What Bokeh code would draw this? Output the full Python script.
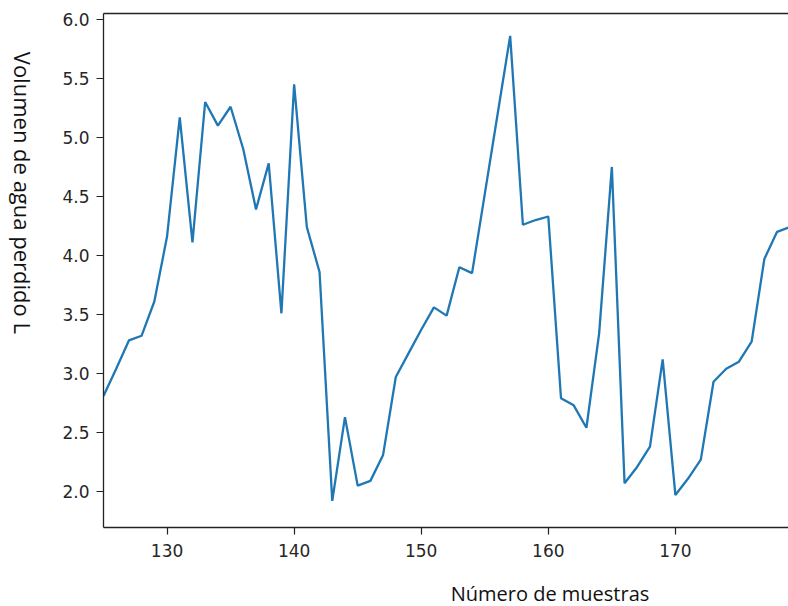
import math
from bokeh.plotting import figure
from bokeh.layouts import row, column
from bokeh.models import Range1d, FixedTicker, LinearAxis, CustomJSTickFormatter
from bokeh.core.properties import value
from bokeh.embed import file_html
from bokeh.resources import INLINE

muestras = list(range(125, 180))
volumen = [
    2.81, 3.04, 3.28, 3.32, 3.61, 4.16, 5.17, 4.11, 5.30, 5.10,
    5.26, 4.90, 4.39, 4.78, 3.51, 5.45, 4.24, 3.86, 1.92, 2.63,
    2.05, 2.09, 2.31, 2.97, 3.17, 3.37, 3.56, 3.49, 3.90, 3.85,
    4.52, 5.19, 5.86, 4.26, 4.30, 4.33, 2.79, 2.73, 2.54, 3.34,
    4.75, 2.07, 2.21, 2.38, 3.12, 1.97, 2.11, 2.27, 2.93, 3.04,
    3.10, 3.27, 3.97, 4.20, 4.24,
]
x_ticks = [130, 140, 150, 160, 170]
y_ticks = [2.0, 2.5, 3.0, 3.5, 4.0, 4.5, 5.0, 5.5, 6.0]
x_title = "Número de muestras"
y_title = "Volumen de agua perdido L"

TOTAL_W, TOTAL_H = 788, 606
YT_W = 40     # strip holding the vertical title
XT_H = 40     # strip holding the horizontal title


def blank(width, height, xr, yr):
    f = figure(width=width, height=height, output_backend="svg",
               toolbar_location=None, x_range=Range1d(*xr), y_range=Range1d(*yr),
               x_axis_type=None, y_axis_type=None,
               min_border=0, min_border_left=0, min_border_right=0,
               min_border_top=0, min_border_bottom=0)
    f.grid.visible = False
    f.outline_line_color = None
    f.background_fill_color = "white"
    f.border_fill_color = "white"
    return f


# main chart
MAIN_H = TOTAL_H - XT_H
p = figure(width=TOTAL_W - YT_W, height=MAIN_H, output_backend="svg",
           toolbar_location=None,
           x_range=Range1d(125, 178.9), y_range=Range1d(1.695, 6.05),
           min_border_left=63, min_border_right=0, min_border_top=13,
           min_border_bottom=MAIN_H - 527)
p.grid.visible = False
p.outline_line_color = None
p.background_fill_color = "white"
p.border_fill_color = "white"

p.line(muestras, volumen, line_color="#1f77b4", line_width=2.3)

for ax in (p.xaxis[0], p.yaxis[0]):
    ax.axis_line_color = "#222222"
    ax.axis_line_width = 1.3
    ax.major_tick_line_color = "#222222"
    ax.major_tick_line_width = 1.2
    ax.major_tick_out = 7
    ax.major_tick_in = 0
    ax.minor_tick_line_color = None
    ax.major_label_text_font = "DejaVu Sans"
    ax.major_label_text_font_size = "17px"
    ax.major_label_text_color = "#262626"

p.xaxis[0].major_label_standoff = 9
p.yaxis[0].major_label_standoff = 7
p.xaxis[0].ticker = FixedTicker(ticks=x_ticks)
p.yaxis[0].ticker = FixedTicker(ticks=y_ticks)
p.yaxis[0].formatter = CustomJSTickFormatter(code="return tick.toFixed(1);")

# top border
top = LinearAxis(ticker=FixedTicker(ticks=[]), axis_line_color="#222222",
                 axis_line_width=1.3, major_label_text_font_size="0px",
                 major_tick_line_color=None, minor_tick_line_color=None)
p.add_layout(top, "above")

# vertical title strip (reads top to bottom)
yt = blank(YT_W, MAIN_H, (0, YT_W), (0, MAIN_H))
yt.text(x=[22], y=[MAIN_H - 197.5], text=[y_title], angle=-math.pi / 2,
        text_align="center", text_baseline="middle",
        text_font=value("Open Sans"), text_font_size=value("22px"),
        text_color="#111111")

# horizontal title strip
xt = blank(TOTAL_W, XT_H, (0, TOTAL_W), (0, XT_H))
xt.text(x=[549.5], y=[13], text=[x_title],
        text_align="center", text_baseline="alphabetic",
        text_font=value("Open Sans"), text_font_size=value("20px"),
        text_color="#111111")

layout = column(row(yt, p, spacing=0), xt, spacing=0)
open("out.html", "w").write(file_html(layout, INLINE))
